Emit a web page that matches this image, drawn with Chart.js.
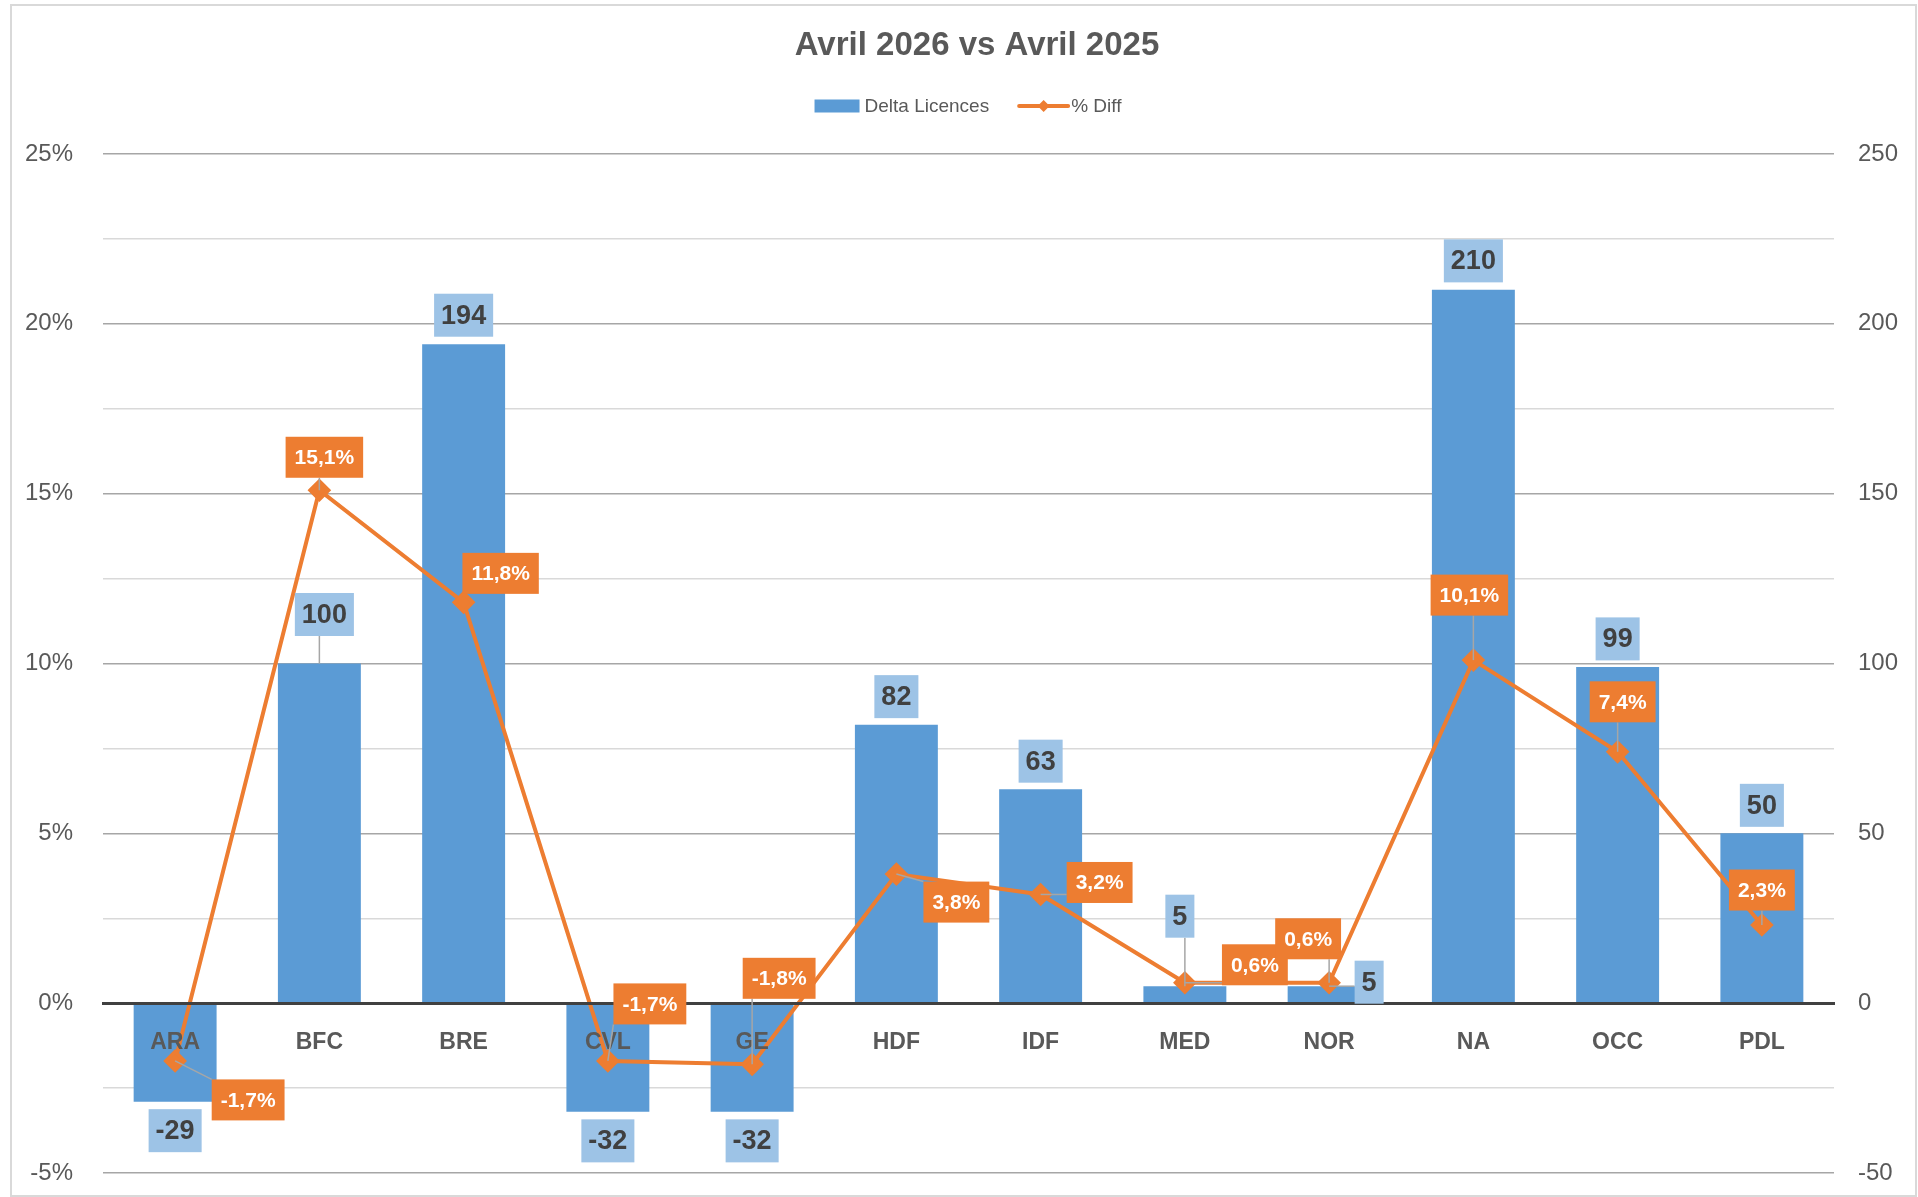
<!DOCTYPE html>
<html lang="fr">
<head>
<meta charset="utf-8">
<title>Avril 2026 vs Avril 2025</title>
<script src="https://cdn.jsdelivr.net/npm/chart.js@4.4.1/dist/chart.umd.min.js"></script>
<style>
  html, body { margin: 0; padding: 0; background: #fff; overflow: hidden; }
  #wrap { position: relative; width: 1918px; height: 1197px; }
  #frame { position: absolute; left: 10px; top: 4px; width: 1903px; height: 1189px; border: 2px solid #d9d9d9; pointer-events: none; }
</style>
</head>
<body>
<div id="wrap">
  <canvas id="chart"></canvas>
  <div id="frame"></div>
</div>
<script>
// --- données ---
const chartTitle = 'Avril 2026 vs Avril 2025';
const seriesNames = ['Delta Licences', '% Diff'];
const categories = ['ARA', 'BFC', 'BRE', 'CVL', 'GE', 'HDF', 'IDF', 'MED', 'NOR', 'NA', 'OCC', 'PDL'];
const deltaLicences = [-29, 100, 194, -32, -32, 82, 63, 5, 5, 210, 99, 50];
const pctDiff = [-1.7, 15.1, 11.8, -1.7, -1.8, 3.8, 3.2, 0.6, 0.6, 10.1, 7.4, 2.3];

const BLUE = '#5b9bd5';
const LIGHT_BLUE = '#9dc3e6';
const ORANGE = '#ed7d31';
const GREY_TEXT = '#595959';
const FONT = '"Liberation Sans", Arial, sans-serif';

Chart.defaults.font.family = FONT;
Chart.defaults.color = GREY_TEXT;

const fmtPct = v => v.toFixed(1).replace('.', ',') + '%';

// décalage des étiquettes (centre de la boîte par rapport au point / bout de barre)
const barLabelShift = [[0, 29], [5, -49], [0, -29], [0, 29], [0, 29], [0, -28], [0, -28], [-5, -70], [40, -4], [0, -29], [0, -28], [0, -28]];
const lineLabelShift = [[73, 39], [5, -33], [37, -29], [42, -57], [27, -86], [60, 28], [59, -12], [70, -18], [-21, -44], [-4, -65], [5, -50], [0, -35]];

function boxGeom(ctx, cx, cy, text, size, padX, padY) {
    const w = ctx.measureText(text).width + padX * 2;
    const h = size + padY * 2;
    return { x: cx - w / 2, y: cy - h / 2, w: w, h: h, cx: cx, cy: cy };
}

function drawLeader(ctx, px, py, b) {
    const nx = Math.max(b.x, Math.min(px, b.x + b.w));
    const ny = Math.max(b.y, Math.min(py, b.y + b.h));
    if (Math.hypot(nx - px, ny - py) < 9) return;
    ctx.strokeStyle = '#a6a6a6';
    ctx.lineWidth = 1.5;
    ctx.beginPath();
    ctx.moveTo(px, py);
    ctx.lineTo(nx, ny);
    ctx.stroke();
}

// pas de marge supplémentaire due aux étiquettes des axes verticaux
function fixAxis(width) {
    return s => {
        s.width = width;
        s.paddingTop = 0;
        s.paddingBottom = 0;
    };
}

const excelLabels = {
    id: 'excelLabels',
    afterDraw(chart) {
        const ctx = chart.ctx;
        ctx.save();

        // titre
        ctx.font = 'bold 33px ' + FONT;
        ctx.fillStyle = GREY_TEXT;
        ctx.textAlign = 'center';
        ctx.textBaseline = 'middle';
        ctx.fillText(chartTitle, 977, 46);

        // légende
        ctx.font = '19px ' + FONT;
        const t1 = ctx.measureText(seriesNames[0]).width;
        const t2 = ctx.measureText(seriesNames[1]).width;
        const total = 45 + 5 + t1 + 30 + 49 + 3 + t2;
        let x = 968 - total / 2;
        const ly = 106;
        ctx.fillStyle = BLUE;
        ctx.fillRect(x, ly - 6.5, 45, 13);
        x += 50;
        ctx.fillStyle = GREY_TEXT;
        ctx.textAlign = 'left';
        ctx.fillText(seriesNames[0], x, ly + 1);
        x += t1 + 30;
        ctx.strokeStyle = ORANGE;
        ctx.lineWidth = 4;
        ctx.lineCap = 'round';
        ctx.beginPath();
        ctx.moveTo(x, ly);
        ctx.lineTo(x + 49, ly);
        ctx.stroke();
        ctx.fillStyle = ORANGE;
        ctx.beginPath();
        ctx.moveTo(x + 24.5, ly - 6);
        ctx.lineTo(x + 30.5, ly);
        ctx.lineTo(x + 24.5, ly + 6);
        ctx.lineTo(x + 18.5, ly);
        ctx.closePath();
        ctx.fill();
        x += 52;
        ctx.fillStyle = GREY_TEXT;
        ctx.fillText(seriesNames[1], x, ly + 1);
        ctx.lineCap = 'butt';

        // étiquettes des barres
        const barMeta = chart.getDatasetMeta(1);
        ctx.font = 'bold 27px ' + FONT;
        ctx.textAlign = 'center';
        barMeta.data.forEach((bar, i) => {
            const txt = String(deltaLicences[i]);
            const s = barLabelShift[i];
            const b = boxGeom(ctx, bar.x + s[0], bar.y + s[1], txt, 27, 7, 8);
            drawLeader(ctx, bar.x, bar.y, b);
            ctx.fillStyle = LIGHT_BLUE;
            ctx.fillRect(b.x, b.y, b.w, b.h);
            ctx.fillStyle = '#404040';
            ctx.fillText(txt, b.cx, b.cy + 1);
        });

        // étiquettes de la courbe
        const lineMeta = chart.getDatasetMeta(0);
        ctx.font = 'bold 21px ' + FONT;
        lineMeta.data.forEach((pt, i) => {
            const txt = fmtPct(pctDiff[i]);
            const s = lineLabelShift[i];
            const b = boxGeom(ctx, pt.x + s[0], pt.y + s[1], txt, 21, 9, 10);
            drawLeader(ctx, pt.x, pt.y, b);
            ctx.fillStyle = ORANGE;
            ctx.fillRect(b.x, b.y, b.w, b.h);
            ctx.fillStyle = '#ffffff';
            ctx.fillText(txt, b.cx, b.cy + 1);
        });

        ctx.restore();
    }
};

new Chart(document.getElementById('chart'), {
    data: {
        labels: categories,
        datasets: [
            {
                type: 'line',
                label: seriesNames[1],
                data: pctDiff,
                yAxisID: 'y',
                borderColor: ORANGE,
                backgroundColor: ORANGE,
                borderWidth: 4,
                pointStyle: 'rectRot',
                pointRadius: 9,
                pointHoverRadius: 9,
                tension: 0,
                order: 0
            },
            {
                type: 'bar',
                label: seriesNames[0],
                data: deltaLicences,
                yAxisID: 'y1',
                backgroundColor: BLUE,
                barPercentage: 0.575,
                categoryPercentage: 1,
                order: 1
            }
        ]
    },
    options: {
        responsive: true,
        maintainAspectRatio: false,
        animation: false,
        layout: { padding: { top: 154, bottom: 24, left: 0, right: 0 } },
        plugins: {
            legend: { display: false },
            title: { display: false },
            tooltip: { enabled: false }
        },
        scales: {
            x: {
                position: { y: 0 },
                grid: { display: false, drawTicks: false },
                border: { color: '#404040', width: 3, z: 1 },
                ticks: {
                    z: 1,
                    color: GREY_TEXT,
                    font: { size: 23, weight: 'bold' },
                    padding: 26,
                    autoSkip: false,
                    maxRotation: 0
                }
            },
            y: {
                position: 'left',
                min: -5,
                max: 25,
                ticks: {
                    stepSize: 2.5,
                    padding: 30,
                    color: GREY_TEXT,
                    font: { size: 24 },
                    callback: v => (v % 5 === 0 ? v + '%' : '')
                },
                grid: {
                    drawTicks: false,
                    lineWidth: 1.5,
                    color: c => (c.tick && c.tick.value % 5 === 0 ? '#a6a6a6' : '#d9d9d9')
                },
                border: { display: false },
                afterFit: fixAxis(103)
            },
            y1: {
                position: 'right',
                min: -50,
                max: 250,
                ticks: {
                    stepSize: 25,
                    padding: 24,
                    color: GREY_TEXT,
                    font: { size: 24 },
                    callback: v => (v % 50 === 0 ? v : '')
                },
                grid: { display: false, drawTicks: false },
                border: { display: false },
                afterFit: fixAxis(84)
            }
        }
    },
    plugins: [excelLabels]
});
</script>
</body>
</html>
